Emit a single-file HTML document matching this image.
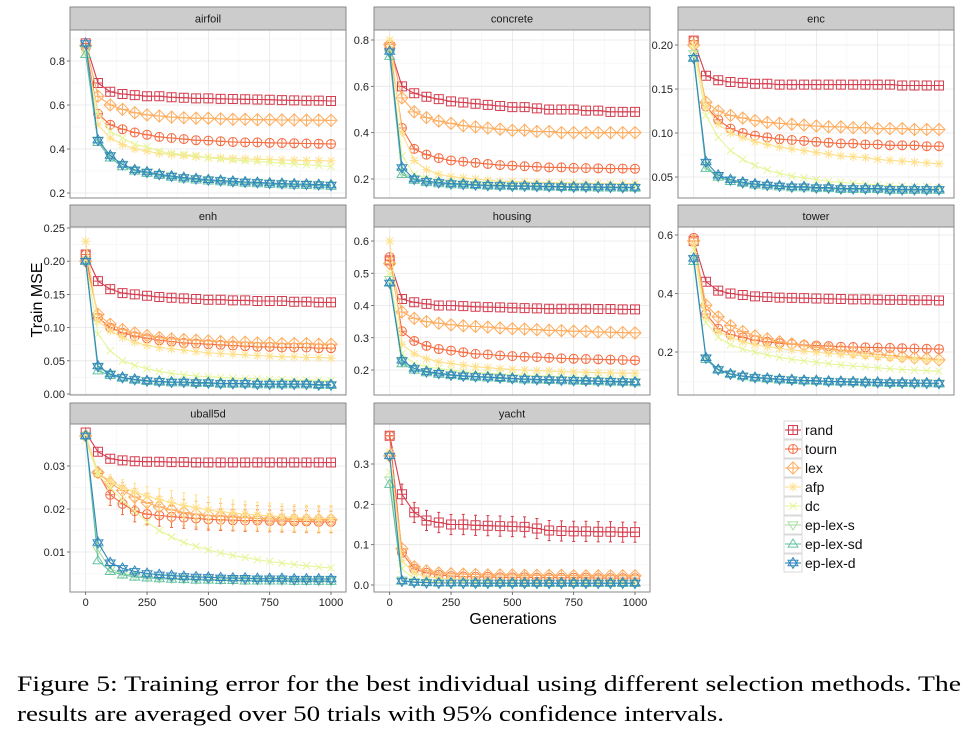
<!DOCTYPE html>
<html><head><meta charset="utf-8">
<style>
html,body{margin:0;padding:0;background:#fff;}
svg{display:block;font-family:"Liberation Sans",sans-serif;}
</style></head>
<body>
<svg id="fig" width="980" height="736" viewBox="0 0 980 736" xmlns="http://www.w3.org/2000/svg">
<text x="0" y="0" transform="translate(42,300) rotate(-90)" text-anchor="middle" font-size="16">Train MSE</text>
<text x="513" y="624" text-anchor="middle" font-size="16">Generations</text>
<text x="17" y="691" font-family="Liberation Serif, serif" font-size="22" textLength="944" lengthAdjust="spacingAndGlyphs">Figure 5: Training error for the best individual using different selection methods. The</text>
<text x="17" y="721" font-family="Liberation Serif, serif" font-size="22" textLength="707" lengthAdjust="spacingAndGlyphs">results are averaged over 50 trials with 95% confidence intervals.</text>
</svg>
<script>
const methods = ["rand","tourn","lex","afp","dc","ep-lex-s","ep-lex-sd","ep-lex-d"];
const colors = ["#D53E4F","#F46D43","#FDAE61","#FEE08B","#E6F598","#ABDDA4","#66C2A5","#3288BD"];
const generations = [0,50,100,150,200,250,300,350,400,450,500,550,600,650,700,750,800,850,900,950,1000];
const xTicks = [0,250,500,750,1000];
const panelNames = ["airfoil","concrete","enc","enh","housing","tower","uball5d","yacht"];

const airfoil = {
 "rand":[0.88,0.70,0.66,0.65,0.645,0.64,0.64,0.635,0.633,0.63,0.63,0.628,0.627,0.626,0.625,0.624,0.622,0.621,0.62,0.62,0.618],
 "tourn":[0.86,0.56,0.51,0.49,0.475,0.465,0.455,0.45,0.445,0.44,0.438,0.435,0.432,0.43,0.43,0.428,0.427,0.426,0.425,0.424,0.423],
 "lex":[0.87,0.64,0.60,0.58,0.565,0.555,0.55,0.545,0.542,0.54,0.54,0.537,0.535,0.535,0.533,0.533,0.532,0.532,0.531,0.531,0.530],
 "afp":[0.84,0.51,0.45,0.42,0.40,0.39,0.38,0.375,0.37,0.365,0.362,0.36,0.357,0.355,0.353,0.352,0.35,0.349,0.348,0.347,0.346],
 "dc":[0.83,0.56,0.48,0.45,0.42,0.41,0.39,0.38,0.375,0.37,0.36,0.355,0.35,0.347,0.343,0.34,0.335,0.332,0.328,0.325,0.32],
 "ep-lex-s":[0.85,0.44,0.37,0.33,0.305,0.295,0.285,0.277,0.27,0.265,0.26,0.257,0.253,0.25,0.248,0.245,0.243,0.241,0.24,0.238,0.236],
 "ep-lex-sd":[0.83,0.43,0.36,0.32,0.30,0.29,0.28,0.272,0.265,0.26,0.255,0.252,0.248,0.245,0.243,0.24,0.238,0.236,0.235,0.233,0.231],
 "ep-lex-d":[0.88,0.44,0.37,0.33,0.305,0.295,0.285,0.277,0.27,0.265,0.26,0.257,0.253,0.25,0.248,0.245,0.243,0.241,0.24,0.238,0.236]
};
const concrete = {
 "rand":[0.77,0.60,0.57,0.555,0.545,0.535,0.53,0.525,0.52,0.515,0.51,0.51,0.505,0.50,0.50,0.50,0.495,0.495,0.49,0.49,0.49],
 "tourn":[0.77,0.42,0.33,0.305,0.29,0.28,0.275,0.27,0.265,0.26,0.258,0.255,0.253,0.25,0.25,0.248,0.247,0.246,0.245,0.245,0.244],
 "lex":[0.78,0.55,0.49,0.465,0.45,0.44,0.43,0.425,0.42,0.415,0.41,0.41,0.405,0.405,0.40,0.40,0.40,0.40,0.40,0.40,0.40],
 "afp":[0.80,0.40,0.28,0.24,0.22,0.21,0.205,0.2,0.195,0.19,0.19,0.188,0.186,0.185,0.184,0.183,0.182,0.181,0.18,0.18,0.18],
 "dc":[0.76,0.30,0.22,0.205,0.195,0.19,0.185,0.18,0.178,0.176,0.174,0.172,0.17,0.17,0.169,0.168,0.167,0.166,0.165,0.165,0.165],
 "ep-lex-s":[0.74,0.23,0.20,0.19,0.185,0.18,0.178,0.175,0.173,0.172,0.17,0.17,0.169,0.168,0.167,0.166,0.166,0.165,0.165,0.164,0.164],
 "ep-lex-sd":[0.73,0.22,0.195,0.185,0.18,0.176,0.174,0.172,0.17,0.169,0.168,0.167,0.166,0.165,0.164,0.163,0.163,0.162,0.162,0.161,0.161],
 "ep-lex-d":[0.75,0.25,0.20,0.19,0.185,0.18,0.178,0.175,0.173,0.172,0.17,0.17,0.169,0.168,0.167,0.166,0.166,0.165,0.165,0.164,0.164]
};
const enc = {
 "rand":[0.205,0.165,0.16,0.158,0.157,0.156,0.156,0.155,0.155,0.155,0.155,0.155,0.155,0.155,0.155,0.155,0.155,0.154,0.154,0.154,0.154],
 "tourn":[0.205,0.13,0.115,0.105,0.10,0.097,0.095,0.093,0.092,0.091,0.09,0.089,0.088,0.088,0.087,0.087,0.086,0.086,0.086,0.085,0.085],
 "lex":[0.20,0.135,0.125,0.12,0.117,0.114,0.112,0.111,0.11,0.109,0.108,0.107,0.107,0.106,0.106,0.105,0.105,0.105,0.104,0.104,0.104],
 "afp":[0.20,0.13,0.11,0.10,0.095,0.09,0.087,0.084,0.082,0.08,0.078,0.076,0.074,0.073,0.072,0.07,0.069,0.068,0.067,0.066,0.065],
 "dc":[0.195,0.12,0.095,0.08,0.07,0.063,0.058,0.054,0.051,0.049,0.047,0.045,0.044,0.043,0.042,0.041,0.04,0.04,0.039,0.039,0.038],
 "ep-lex-s":[0.19,0.063,0.05,0.046,0.043,0.041,0.04,0.039,0.038,0.038,0.037,0.037,0.036,0.036,0.036,0.036,0.035,0.035,0.035,0.035,0.035],
 "ep-lex-sd":[0.185,0.06,0.05,0.045,0.043,0.041,0.04,0.039,0.038,0.038,0.037,0.037,0.036,0.036,0.036,0.036,0.035,0.035,0.035,0.035,0.035],
 "ep-lex-d":[0.185,0.067,0.052,0.047,0.044,0.042,0.041,0.04,0.039,0.039,0.038,0.038,0.037,0.037,0.037,0.037,0.036,0.036,0.036,0.036,0.036]
};
const enh = {
 "rand":[0.21,0.17,0.158,0.152,0.15,0.148,0.146,0.145,0.144,0.143,0.142,0.142,0.141,0.141,0.14,0.14,0.14,0.139,0.139,0.138,0.138],
 "tourn":[0.21,0.115,0.1,0.092,0.087,0.084,0.081,0.079,0.077,0.076,0.075,0.074,0.073,0.072,0.071,0.071,0.07,0.07,0.07,0.069,0.069],
 "lex":[0.20,0.12,0.105,0.097,0.092,0.088,0.085,0.083,0.082,0.081,0.08,0.079,0.078,0.078,0.077,0.077,0.076,0.076,0.076,0.075,0.075],
 "afp":[0.23,0.11,0.095,0.085,0.078,0.073,0.07,0.068,0.066,0.064,0.062,0.061,0.06,0.059,0.058,0.057,0.056,0.056,0.055,0.055,0.054],
 "dc":[0.20,0.09,0.065,0.05,0.043,0.038,0.034,0.031,0.029,0.027,0.026,0.025,0.024,0.023,0.023,0.022,0.022,0.021,0.021,0.021,0.02],
 "ep-lex-s":[0.20,0.04,0.03,0.025,0.022,0.02,0.019,0.018,0.018,0.017,0.017,0.016,0.016,0.016,0.015,0.015,0.015,0.015,0.015,0.014,0.014],
 "ep-lex-sd":[0.20,0.035,0.028,0.024,0.021,0.019,0.018,0.017,0.017,0.016,0.016,0.015,0.015,0.015,0.014,0.014,0.014,0.014,0.014,0.013,0.013],
 "ep-lex-d":[0.20,0.042,0.03,0.025,0.022,0.02,0.019,0.018,0.018,0.017,0.017,0.016,0.016,0.016,0.015,0.015,0.015,0.015,0.015,0.014,0.014]
};
const housing = {
 "rand":[0.54,0.42,0.41,0.405,0.40,0.40,0.398,0.396,0.395,0.394,0.393,0.392,0.391,0.39,0.39,0.39,0.39,0.389,0.389,0.388,0.388],
 "tourn":[0.55,0.32,0.29,0.275,0.265,0.26,0.255,0.25,0.248,0.245,0.243,0.241,0.24,0.238,0.236,0.235,0.234,0.233,0.232,0.231,0.23],
 "lex":[0.53,0.38,0.36,0.35,0.345,0.34,0.337,0.335,0.333,0.33,0.328,0.327,0.325,0.323,0.322,0.32,0.32,0.318,0.317,0.316,0.315],
 "afp":[0.60,0.28,0.25,0.235,0.225,0.22,0.215,0.21,0.207,0.204,0.202,0.2,0.198,0.197,0.195,0.194,0.193,0.192,0.191,0.19,0.19],
 "dc":[0.50,0.25,0.22,0.21,0.205,0.2,0.195,0.192,0.19,0.188,0.186,0.184,0.182,0.181,0.18,0.178,0.177,0.176,0.175,0.174,0.173],
 "ep-lex-s":[0.48,0.225,0.205,0.195,0.19,0.185,0.182,0.18,0.178,0.176,0.174,0.172,0.171,0.17,0.169,0.168,0.167,0.166,0.165,0.164,0.163],
 "ep-lex-sd":[0.47,0.22,0.2,0.192,0.187,0.183,0.18,0.178,0.176,0.174,0.172,0.17,0.169,0.168,0.167,0.166,0.165,0.164,0.163,0.162,0.161],
 "ep-lex-d":[0.47,0.23,0.205,0.195,0.19,0.185,0.182,0.18,0.178,0.176,0.174,0.172,0.171,0.17,0.169,0.168,0.167,0.166,0.165,0.164,0.163]
};
const tower = {
 "rand":[0.58,0.44,0.41,0.40,0.395,0.39,0.388,0.386,0.385,0.384,0.383,0.382,0.381,0.38,0.38,0.379,0.378,0.378,0.377,0.377,0.376],
 "tourn":[0.59,0.33,0.28,0.26,0.25,0.24,0.235,0.23,0.227,0.224,0.222,0.22,0.218,0.217,0.216,0.215,0.214,0.213,0.212,0.211,0.21],
 "lex":[0.58,0.36,0.32,0.29,0.27,0.255,0.245,0.235,0.228,0.222,0.216,0.211,0.206,0.2,0.196,0.192,0.188,0.184,0.18,0.177,0.173],
 "afp":[0.57,0.32,0.27,0.25,0.235,0.225,0.218,0.212,0.207,0.203,0.199,0.195,0.192,0.189,0.186,0.183,0.18,0.178,0.175,0.173,0.171],
 "dc":[0.55,0.30,0.25,0.225,0.21,0.2,0.19,0.182,0.175,0.17,0.165,0.16,0.156,0.152,0.149,0.146,0.143,0.14,0.138,0.136,0.134],
 "ep-lex-s":[0.52,0.18,0.14,0.125,0.118,0.113,0.11,0.107,0.105,0.103,0.102,0.1,0.099,0.098,0.097,0.096,0.095,0.095,0.094,0.094,0.093],
 "ep-lex-sd":[0.51,0.175,0.138,0.123,0.116,0.111,0.108,0.105,0.103,0.101,0.1,0.098,0.097,0.096,0.095,0.094,0.093,0.093,0.092,0.092,0.091],
 "ep-lex-d":[0.52,0.18,0.14,0.125,0.118,0.113,0.11,0.107,0.105,0.103,0.102,0.1,0.099,0.098,0.097,0.096,0.095,0.095,0.094,0.094,0.093]
};
const uball5d = {
 "rand":[0.0378,0.0333,0.0317,0.0313,0.0311,0.031,0.031,0.0309,0.0309,0.0308,0.0308,0.0308,0.0308,0.0308,0.0308,0.0308,0.0308,0.0308,0.0308,0.0308,0.0308],
 "tourn":[0.037,0.0283,0.0233,0.0212,0.0195,0.0188,0.0185,0.0182,0.018,0.0178,0.0176,0.0175,0.0174,0.0173,0.0173,0.0172,0.0172,0.0171,0.0171,0.017,0.017],
 "lex":[0.037,0.0285,0.026,0.0243,0.0228,0.0215,0.0205,0.0198,0.0192,0.0188,0.0185,0.0183,0.0181,0.018,0.0178,0.0177,0.0176,0.0176,0.0175,0.0175,0.0175],
 "afp":[0.037,0.0285,0.0265,0.025,0.024,0.023,0.0222,0.0215,0.0208,0.0203,0.0198,0.0194,0.0191,0.0188,0.0186,0.0184,0.0182,0.018,0.0179,0.0178,0.0178],
 "dc":[0.036,0.028,0.025,0.022,0.0195,0.017,0.015,0.0135,0.0122,0.0113,0.0105,0.0098,0.0092,0.0087,0.0082,0.0078,0.0074,0.0071,0.0068,0.0065,0.0063],
 "ep-lex-s":[0.037,0.0105,0.006,0.005,0.0045,0.0042,0.004,0.0039,0.0038,0.0037,0.0036,0.0036,0.0035,0.0035,0.0035,0.0034,0.0034,0.0034,0.0034,0.0033,0.0033],
 "ep-lex-sd":[0.037,0.008,0.0055,0.0047,0.0042,0.004,0.0038,0.0037,0.0036,0.0035,0.0035,0.0034,0.0034,0.0033,0.0033,0.0033,0.0033,0.0032,0.0032,0.0032,0.0032],
 "ep-lex-d":[0.037,0.0122,0.0075,0.0062,0.0055,0.005,0.0047,0.0045,0.0043,0.0042,0.0041,0.004,0.0039,0.0039,0.0038,0.0038,0.0038,0.0037,0.0037,0.0037,0.0037]
};
const yacht = {
 "rand":[0.37,0.225,0.18,0.16,0.155,0.15,0.15,0.148,0.147,0.146,0.145,0.144,0.14,0.135,0.134,0.133,0.133,0.132,0.132,0.131,0.131],
 "tourn":[0.37,0.08,0.04,0.03,0.025,0.022,0.021,0.02,0.02,0.019,0.019,0.019,0.018,0.018,0.018,0.018,0.018,0.017,0.017,0.017,0.017],
 "lex":[0.32,0.09,0.045,0.035,0.03,0.028,0.027,0.026,0.025,0.025,0.025,0.024,0.024,0.024,0.024,0.023,0.023,0.023,0.023,0.023,0.023],
 "afp":[0.33,0.06,0.03,0.02,0.017,0.015,0.014,0.013,0.013,0.012,0.012,0.012,0.011,0.011,0.011,0.011,0.011,0.01,0.01,0.01,0.01],
 "dc":[0.28,0.04,0.015,0.01,0.008,0.007,0.007,0.006,0.006,0.006,0.006,0.005,0.005,0.005,0.005,0.005,0.005,0.005,0.005,0.005,0.005],
 "ep-lex-s":[0.26,0.012,0.008,0.006,0.005,0.005,0.005,0.005,0.005,0.004,0.004,0.004,0.004,0.004,0.004,0.004,0.004,0.004,0.004,0.004,0.004],
 "ep-lex-sd":[0.25,0.01,0.007,0.006,0.005,0.005,0.005,0.004,0.004,0.004,0.004,0.004,0.004,0.004,0.004,0.004,0.004,0.004,0.004,0.004,0.004],
 "ep-lex-d":[0.32,0.01,0.007,0.006,0.005,0.005,0.005,0.005,0.005,0.005,0.005,0.005,0.005,0.005,0.005,0.005,0.005,0.005,0.005,0.005,0.005]
};
const uballCI = {
 "tourn":[0,0.0006,0.0025,0.0025,0.0025,0.0025,0.0025,0.0025,0.0025,0.0025,0.0025,0.0025,0.0025,0.0025,0.0025,0.0025,0.0025,0.0025,0.0025,0.0025,0.0025],
 "lex":[0,0.0006,0.0015,0.0018,0.002,0.0022,0.0025,0.0028,0.003,0.003,0.003,0.003,0.003,0.003,0.003,0.003,0.003,0.003,0.003,0.003,0.003],
 "afp":[0,0.0006,0.0015,0.0018,0.002,0.0022,0.0025,0.0028,0.003,0.003,0.003,0.003,0.003,0.003,0.003,0.003,0.003,0.003,0.003,0.003,0.003]
};
const yachtCI = {
 "rand":[0.01,0.025,0.025,0.025,0.025,0.025,0.025,0.025,0.025,0.025,0.025,0.025,0.025,0.025,0.025,0.025,0.025,0.025,0.025,0.025,0.025]
};
const panelData = [airfoil,concrete,enc,enh,housing,tower,uball5d,yacht];
const panelCI = [{},{},{},{},{},{},uballCI,yachtCI];
const yTicks = [[0.2,0.4,0.6,0.8],[0.2,0.4,0.6,0.8],[0.05,0.10,0.15,0.20],[0,0.05,0.10,0.15,0.20,0.25],[0.2,0.3,0.4,0.5,0.6],[0.2,0.4,0.6],[0.01,0.02,0.03],[0,0.1,0.2,0.3]];
const yDecimals = [1,1,2,2,1,1,2,1];

/* layout (pixels) */
const colX = [70,374,678], panW = 276;
const rowStrip = [7,205,403], rowTop = [30,227,424], rowBot = [198,395,592];
const calib = [[0.8,61,0.2,193],[0.8,40,0.2,179],[0.2,45,0.05,177],[0.25,228,0,394],[0.6,241,0.2,370],[0.6,235,0.2,352],[0.03,466,0.01,552],[0.3,464,0,585]];

const NS="http://www.w3.org/2000/svg";
const svg=document.getElementById('fig');
function mk(tag,attrs,parent){const e=document.createElementNS(NS,tag);for(const k in attrs)e.setAttribute(k,attrs[k]);(parent||svg).appendChild(e);return e;}

function markerPath(m,cx,cy){
  const r=4.5;
  switch(m){
    case 0: return `M${cx-r},${cy-r}h${2*r}v${2*r}h${-2*r}z M${cx-r},${cy}h${2*r} M${cx},${cy-r}v${2*r}`;
    case 1: return `M${cx-r},${cy}a${r},${r} 0 1,0 ${2*r},0a${r},${r} 0 1,0 ${-2*r},0 M${cx-r},${cy}h${2*r} M${cx},${cy-r}v${2*r}`;
    case 2: {const d=r*1.35;return `M${cx},${cy-d}L${cx+d},${cy}L${cx},${cy+d}L${cx-d},${cy}z M${cx-d},${cy}h${2*d} M${cx},${cy-d}v${2*d}`;}
    case 3: {const a=r*0.75;return `M${cx-r},${cy}h${2*r} M${cx},${cy-r}v${2*r} M${cx-a},${cy-a}L${cx+a},${cy+a} M${cx-a},${cy+a}L${cx+a},${cy-a}`;}
    case 4: {const a=r*0.8;return `M${cx-a},${cy-a}L${cx+a},${cy+a} M${cx-a},${cy+a}L${cx+a},${cy-a}`;}
    case 5: return `M${cx-r*1.1},${cy-r*0.7}L${cx+r*1.1},${cy-r*0.7}L${cx},${cy+r*1.1}z`;
    case 6: return `M${cx-r*1.1},${cy+r*0.7}L${cx+r*1.1},${cy+r*0.7}L${cx},${cy-r*1.1}z`;
    default: return `M${cx-r*1.1},${cy-r*0.6}L${cx+r*1.1},${cy-r*0.6}L${cx},${cy+r*1.2}z M${cx-r*1.1},${cy+r*0.6}L${cx+r*1.1},${cy+r*0.6}L${cx},${cy-r*1.2}z`;
  }
}

panelNames.forEach((name,p)=>{
  const col=p%3,row=Math.floor(p/3);
  const x0=colX[col], top=rowTop[row], bot=rowBot[row];
  const c=calib[p];
  const ys=v=>c[1]+(v-c[0])*(c[3]-c[1])/(c[2]-c[0]);
  const xs=g=>x0+15.7+g*(245.3/1000);
  const g=mk('g',{});
  
  
  mk('rect',{x:x0,y:top,width:panW,height:bot-top,fill:'#fff'},g);
  // minor grid
  const ticks=yTicks[p];
  const step=ticks[1]-ticks[0];
  for(let v=ticks[0]-step/2;v<=ticks[ticks.length-1]+step;v+=step){
    const y=ys(v); if(y>top&&y<bot) mk('line',{x1:x0,x2:x0+panW,y1:y,y2:y,stroke:'#f4f4f4','stroke-width':0.6},g);
  }
  for(let i=0;i<xTicks.length-1;i++){const xm=xs((xTicks[i]+xTicks[i+1])/2);mk('line',{x1:xm,x2:xm,y1:top,y2:bot,stroke:'#f4f4f4','stroke-width':0.6},g);}
  ticks.forEach(v=>{const y=ys(v);mk('line',{x1:x0,x2:x0+panW,y1:y,y2:y,stroke:'#e6e6e6','stroke-width':0.8},g);});
  xTicks.forEach(v=>{const x=xs(v);mk('line',{x1:x,x2:x,y1:top,y2:bot,stroke:'#e6e6e6','stroke-width':0.8},g);});
  // y tick labels
  ticks.forEach(v=>{
    const y=ys(v);
    mk('line',{x1:x0-3,x2:x0,y1:y,y2:y,stroke:'#555','stroke-width':0.8},g);
    const t=mk('text',{x:x0-5,y:y+4,'text-anchor':'end','font-size':11,fill:'#222'},g);
    
    
    t.textContent=v.toFixed(yDecimals[p]);
  });
  // series
  const data=panelData[p], ci=panelCI[p];
  methods.forEach((m,si)=>{
    const vals=data[m];
    const sg=mk('g',{},g);
    
    
    const pts=vals.map((v,i)=>xs(generations[i]).toFixed(1)+','+ys(v).toFixed(1)).join(' ');
    mk('polyline',{points:pts,fill:'none',stroke:colors[si],'stroke-width':1.1},sg);
    if(ci[m]){
      ci[m].forEach((e,i)=>{
        if(e<=0) return;
        const x=xs(generations[i]),y1=ys(vals[i]-e),y2=ys(vals[i]+e);
        mk('path',{d:`M${x},${y1}V${y2}M${x-1.5},${y1}h3M${x-1.5},${y2}h3`,stroke:colors[si],'stroke-width':1,fill:'none'},sg);
      });
    }
    vals.forEach((v,i)=>{
      const mp=mk('path',{d:markerPath(si,xs(generations[i]),ys(v)),fill:'none',stroke:colors[si],'stroke-width':1},sg);
      
      
    });
  });
  mk('rect',{x:x0,y:top,width:panW,height:bot-top,fill:'none',stroke:'#8a8a8a','stroke-width':1},g);
  // strip
  const s=mk('rect',{x:x0,y:rowStrip[row],width:panW,height:top-rowStrip[row],fill:'#cccccc',stroke:'#8a8a8a','stroke-width':1},g);
  
  
  const st=mk('text',{x:x0+panW/2,y:(rowStrip[row]+top)/2+4,'text-anchor':'middle','font-size':11,fill:'#1a1a1a'},g);
  
  
  st.textContent=name;
  // x axis for bottom panels
  if(row===2){
    xTicks.forEach(v=>{
      const x=xs(v);
      mk('line',{x1:x,x2:x,y1:bot,y2:bot+3,stroke:'#555','stroke-width':0.8},g);
      const t=mk('text',{x:x,y:bot+14,'text-anchor':'middle','font-size':11,fill:'#222'},g);
      
      
      t.textContent=v;
    });
  }
});

// legend
const lg=mk('g',{});


methods.forEach((m,i)=>{
  const y=421+i*19;
  const e=mk('g',{},lg);
  
  
  mk('rect',{x:784,y:y,width:18,height:18,fill:'#fff',stroke:'#d0d0d0','stroke-width':0.8},e);
  mk('line',{x1:785,x2:801,y1:y+9,y2:y+9,stroke:colors[i],'stroke-width':1.1},e);
  mk('path',{d:markerPath(i,793,y+9),fill:'none',stroke:colors[i],'stroke-width':1},e);
  const t=mk('text',{x:805,y:y+14,'font-size':14,fill:'#111'},e);
  t.textContent=m;
});
</script>
</body></html>
